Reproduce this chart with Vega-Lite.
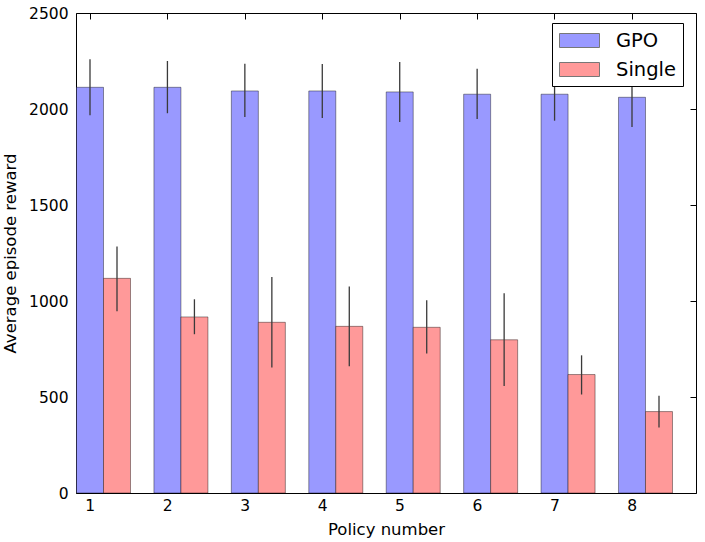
{
  "$schema": "https://vega.github.io/schema/vega-lite/v6.json",
  "width": 620,
  "height": 480,
  "autosize": {"type": "none"},
  "padding": {"left": 76, "top": 13, "right": 9, "bottom": 49},
  "config": {
    "font": "DejaVu Sans",
    "view": {"stroke": "#000", "strokeWidth": 1},
    "axis": {
      "grid": false, "domain": false, "tickColor": "#000", "tickSize": -6, "tickWidth": 1,
      "labelColor": "#000", "labelFontSize": 15.5, "labelFont": "DejaVu Sans",
      "titleFont": "DejaVu Sans", "titleFontSize": 16.5, "titleFontWeight": "normal", "titleColor": "#000",
      "labelOverlap": false, "labelFlush": false
    },
    "legend": {
      "orient": "none", "legendX": 476, "legendY": 10, "padding": 7,
      "strokeColor": "#000", "fillColor": "#fff", "cornerRadius": 0,
      "labelFontSize": 19.5, "labelColor": "#000", "labelFont": "DejaVu Sans",
      "symbolType": "M-1,-0.7H3V0.7H-1Z", "symbolSize": 400, "symbolStrokeColor": "#777",
      "symbolStrokeWidth": 1, "symbolOpacity": 1, "labelOffset": 36, "rowPadding": 9
    }
  },
  "data": {
    "values": [
      {"policy": 1, "series": "GPO", "value": 2113, "lower": 1967, "upper": 2259},
      {"policy": 2, "series": "GPO", "value": 2113, "lower": 1978, "upper": 2250},
      {"policy": 3, "series": "GPO", "value": 2094, "lower": 1958, "upper": 2236},
      {"policy": 4, "series": "GPO", "value": 2094, "lower": 1953, "upper": 2235},
      {"policy": 5, "series": "GPO", "value": 2089, "lower": 1932, "upper": 2245},
      {"policy": 6, "series": "GPO", "value": 2077, "lower": 1948, "upper": 2209},
      {"policy": 7, "series": "GPO", "value": 2077, "lower": 1939, "upper": 2215},
      {"policy": 8, "series": "GPO", "value": 2061, "lower": 1906, "upper": 2216},
      {"policy": 1, "series": "Single", "value": 1118, "lower": 946, "upper": 1284},
      {"policy": 2, "series": "Single", "value": 917, "lower": 827, "upper": 1009},
      {"policy": 3, "series": "Single", "value": 889, "lower": 653, "upper": 1125},
      {"policy": 4, "series": "Single", "value": 868, "lower": 660, "upper": 1076},
      {"policy": 5, "series": "Single", "value": 863, "lower": 727, "upper": 1004},
      {"policy": 6, "series": "Single", "value": 798, "lower": 557, "upper": 1040},
      {"policy": 7, "series": "Single", "value": 617, "lower": 513, "upper": 717},
      {"policy": 8, "series": "Single", "value": 424, "lower": 341, "upper": 506}
    ]
  },
  "layer": [
    {
      "mark": {"type": "bar", "stroke": "#000", "strokeOpacity": 0.4, "strokeWidth": 1},
      "encoding": {
        "x": {
          "field": "policy", "type": "ordinal",
          "scale": {"type": "band", "paddingInner": 0.6306, "paddingOuter": 0.319, "align": 0, "round": false},
          "axis": {"orient": "bottom", "labelAngle": 0, "labelPadding": 11, "title": "Policy number", "titlePadding": 8}
        },
        "xOffset": {
          "field": "series", "type": "nominal",
          "scale": {"domain": ["GPO", "Single"], "range": [0.5, 54.5], "paddingInner": 0, "paddingOuter": 0}
        },
        "y": {
          "field": "value", "type": "quantitative",
          "scale": {"domain": [0, 2500], "nice": false, "zero": true},
          "axis": {"orient": "left", "values": [0, 500, 1000, 1500, 2000, 2500], "format": "d", "labelPadding": 14, "title": "Average episode reward", "titlePadding": 10}
        },
        "color": {
          "field": "series", "type": "nominal",
          "scale": {"domain": ["GPO", "Single"], "range": ["#9999ff", "#ff9999"]},
          "legend": {"title": null}
        }
      }
    },
    {
      "mark": {"type": "rule", "color": "#3a3a3a", "strokeWidth": 1.3},
      "encoding": {
        "x": {
          "field": "policy", "type": "ordinal",
          "scale": {"type": "band", "paddingInner": 0.6306, "paddingOuter": 0.319, "align": 0, "round": false},
          "axis": {"orient": "top", "labels": false, "title": null}
        },
        "xOffset": {
          "field": "series", "type": "nominal",
          "scale": {"domain": ["GPO", "Single"], "range": [0.5, 54.5], "paddingInner": 0, "paddingOuter": 0}
        },
        "y": {
          "field": "lower", "type": "quantitative",
          "axis": {"orient": "right", "values": [0, 500, 1000, 1500, 2000, 2500], "labels": false, "title": null}
        },
        "y2": {"field": "upper"}
      }
    }
  ],
  "resolve": {"axis": {"x": "independent", "y": "independent"}}
}
